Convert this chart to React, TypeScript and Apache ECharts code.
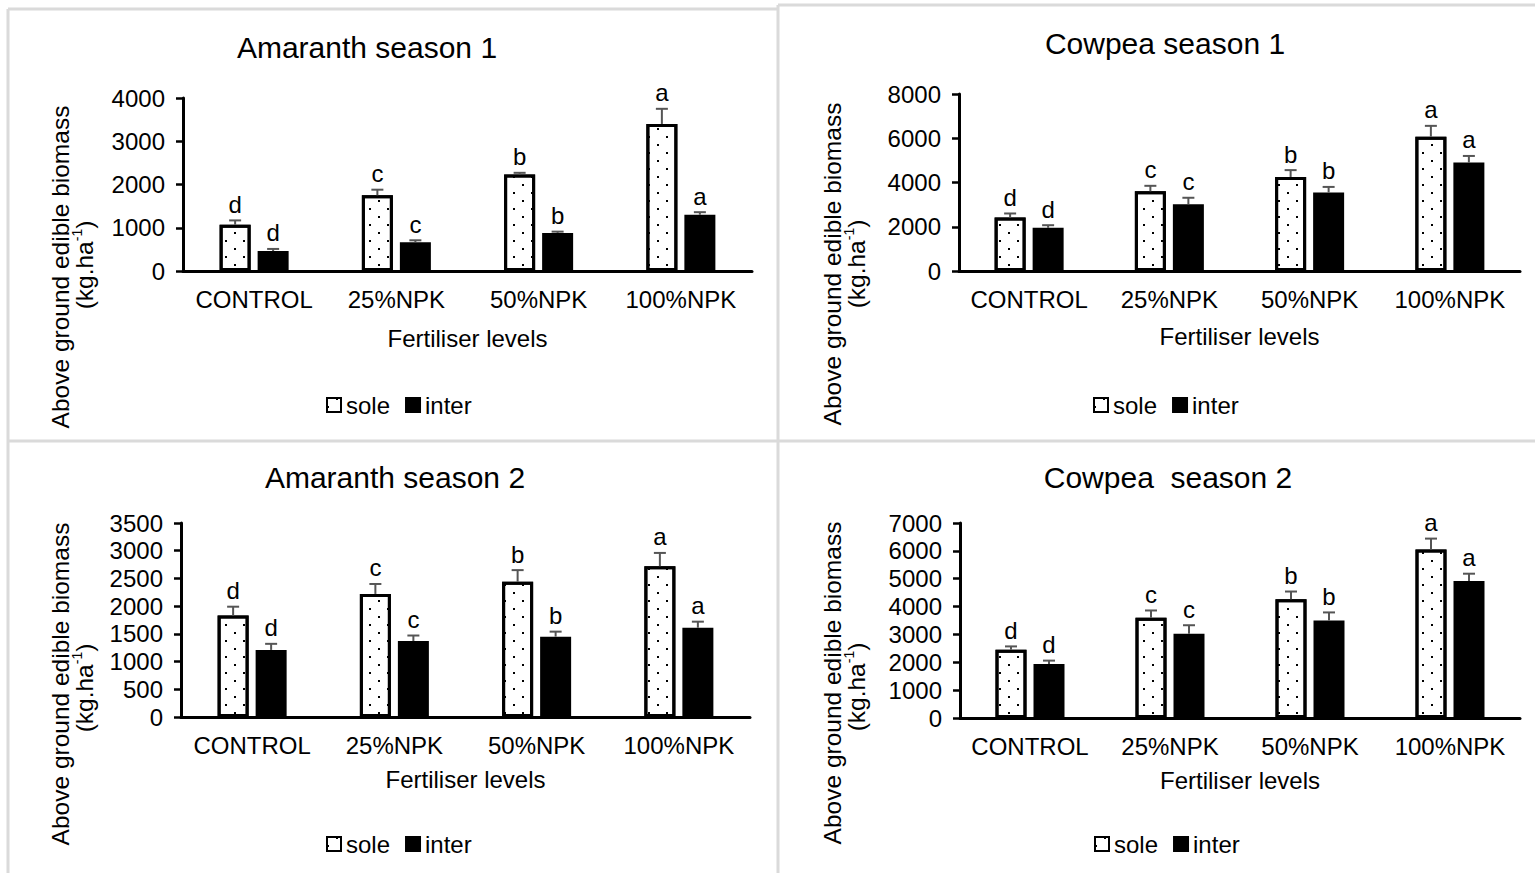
import React, { useEffect, useRef } from 'react';
import * as echarts from 'echarts';

const categories = ['CONTROL', '25%NPK', '50%NPK', '100%NPK'];
const seriesNames = ['sole', 'inter'];
const titles = ['Amaranth season 1', 'Cowpea season 1', 'Amaranth season 2', 'Cowpea  season 2'];
const xAxisName = 'Fertiliser levels';
const yAxisName = 'Above ground edible biomass';

const yMax = [4000, 8000, 3500, 7000];
const yInterval = [1000, 2000, 500, 1000];

const amaranth1Sole = [1070, 1750, 2230, 3400];
const amaranth1SoleErr = [100, 130, 40, 350];
const amaranth1Inter = [460, 665, 880, 1300];
const amaranth1InterErr = [50, 45, 30, 60];

const cowpea1Sole = [2420, 3600, 4250, 6070];
const cowpea1SoleErr = [180, 250, 310, 490];
const cowpea1Inter = [1950, 3020, 3550, 4900];
const cowpea1InterErr = [120, 290, 250, 300];

const amaranth2Sole = [1830, 2220, 2440, 2720];
const amaranth2SoleErr = [160, 180, 210, 240];
const amaranth2Inter = [1210, 1370, 1450, 1610];
const amaranth2InterErr = [110, 100, 90, 110];

const cowpea2Sole = [2450, 3600, 4260, 6050];
const cowpea2SoleErr = [120, 260, 280, 390];
const cowpea2Inter = [1940, 3020, 3500, 4920];
const cowpea2InterErr = [120, 310, 290, 260];

const soleLetters = ['d', 'c', 'b', 'a'];
const interLetters = ['d', 'c', 'b', 'a'];

const panelData = [
  { sole: amaranth1Sole, soleErr: amaranth1SoleErr, inter: amaranth1Inter, interErr: amaranth1InterErr },
  { sole: cowpea1Sole, soleErr: cowpea1SoleErr, inter: cowpea1Inter, interErr: cowpea1InterErr },
  { sole: amaranth2Sole, soleErr: amaranth2SoleErr, inter: amaranth2Inter, interErr: amaranth2InterErr },
  { sole: cowpea2Sole, soleErr: cowpea2SoleErr, inter: cowpea2Inter, interErr: cowpea2InterErr },
];

const FONT = '"Liberation Sans", Arial, sans-serif';
const BAR_W = 31;
const BAR_GAP = 7;

const layouts = [
  { grid: { left: 183, top: 98, width: 569, height: 173 }, title: [367, 47], legend: [326, 393], yName: [60, 267], yName2: [84, 265], nameGap: 55 },
  { grid: { left: 959, top: 94, width: 561, height: 177 }, title: [1165, 43], legend: [1093, 393], yName: [832, 264], yName2: [856, 264], nameGap: 53 },
  { grid: { left: 181, top: 523, width: 569, height: 194 }, title: [395, 477], legend: [326, 832], yName: [60, 684], yName2: [84, 688], nameGap: 50 },
  { grid: { left: 960, top: 523, width: 560, height: 195 }, title: [1168, 477], legend: [1094, 832], yName: [832, 683], yName2: [856, 687], nameGap: 50 },
];

function makeErr(values: number[], errs: number[], letters: string[], offset: number, k: number, name: string) {
  return {
    type: 'custom',
    name,
    xAxisIndex: k,
    yAxisIndex: k,
    z: 5,
    data: values.map((v, i) => [i, v, errs[i]]),
    encode: { x: 0, y: 1 },
    renderItem: (params: any, api: any) => {
      const i = api.value(0);
      const v = api.value(1);
      const e = api.value(2);
      const base = api.coord([i, v]);
      const top = api.coord([i, v + e]);
      const x = base[0] + offset;
      return {
        type: 'group',
        children: [
          { type: 'line', shape: { x1: x, y1: base[1], x2: x, y2: top[1] }, style: { stroke: '#555', lineWidth: 2 } },
          { type: 'line', shape: { x1: x - 6, y1: top[1], x2: x + 6, y2: top[1] }, style: { stroke: '#555', lineWidth: 2 } },
          {
            type: 'text',
            x,
            y: top[1] - 4,
            style: {
              text: letters[params.dataIndex],
              align: 'center',
              verticalAlign: 'bottom',
              fontSize: 24,
              fontFamily: FONT,
              fill: '#000',
            },
          },
        ],
      };
    },
  };
}

export default function App() {
  const ref = useRef<HTMLDivElement>(null);
  useEffect(() => {
    if (!ref.current) return;
    const chart = echarts.init(ref.current, undefined, { renderer: 'svg' });
    const off = (BAR_W + BAR_GAP) / 2;
    const series: any[] = [];
    panelData.forEach((p, k) => {
      series.push({
        type: 'bar',
        name: seriesNames[0],
        xAxisIndex: k,
        yAxisIndex: k,
        barWidth: BAR_W,
        barGap: (BAR_GAP / BAR_W) * 100 + '%',
        data: p.sole,
        itemStyle: {
          color: '#fff',
          borderColor: '#000',
          borderWidth: 3,
          decal: {
            symbol: 'rect',
            symbolSize: 1,
            color: '#000',
            dashArrayX: [[2, 16], [0, 9, 2, 7]],
            dashArrayY: [2, 6],
            rotation: 0,
          },
        },
      });
      series.push({
        type: 'bar',
        name: seriesNames[1],
        xAxisIndex: k,
        yAxisIndex: k,
        barWidth: BAR_W,
        data: p.inter,
        itemStyle: { color: '#000', borderColor: '#000', borderWidth: 3 },
      });
      series.push(makeErr(p.sole, p.soleErr, soleLetters, -off, k, 'sole error'));
      series.push(makeErr(p.inter, p.interErr, interLetters, off, k, 'inter error'));
    });

    const graphics: any[] = [];
    const border = { stroke: '#dadada', lineWidth: 3 };
    graphics.push({ type: 'line', shape: { x1: 8, y1: 9, x2: 778, y2: 9 }, style: border });
    graphics.push({ type: 'line', shape: { x1: 778, y1: 5, x2: 1535, y2: 5 }, style: border });
    graphics.push({ type: 'line', shape: { x1: 778, y1: 5, x2: 778, y2: 873 }, style: border });
    graphics.push({ type: 'line', shape: { x1: 8, y1: 441, x2: 1535, y2: 441 }, style: border });
    graphics.push({ type: 'line', shape: { x1: 8, y1: 9, x2: 8, y2: 873 }, style: border });
    layouts.forEach((l, k) => {
      graphics.push({
        type: 'text',
        x: l.title[0],
        y: l.title[1],
        style: { text: titles[k], align: 'center', verticalAlign: 'middle', textAlign: 'center', textVerticalAlign: 'middle', fontSize: 30, fontFamily: FONT, fill: '#000' },
      });
      graphics.push({
        type: 'text',
        x: l.yName[0],
        y: l.yName[1],
        rotation: Math.PI / 2,
        style: { text: yAxisName, align: 'center', verticalAlign: 'middle', textAlign: 'center', textVerticalAlign: 'middle', fontSize: 24.5, fontFamily: FONT, fill: '#000' },
      });
      graphics.push({
        type: 'text',
        x: l.yName2[0],
        y: l.yName2[1],
        rotation: Math.PI / 2,
        style: {
          text: '{n|(kg.ha}{s|-1}{n|)}',
          align: 'center',
          verticalAlign: 'middle',
          textAlign: 'center',
          textVerticalAlign: 'middle',
          fontFamily: FONT,
          fill: '#000',
          rich: {
            n: { fontSize: 24.5, fontFamily: FONT, fill: '#000', lineHeight: 28 },
            s: { fontSize: 14, fontFamily: FONT, fill: '#000', lineHeight: 14, verticalAlign: 'top' },
          },
        },
      });
    });

    chart.setOption({
      animation: false,
      backgroundColor: '#fff',
      grid: layouts.map((l) => ({ ...l.grid, containLabel: false })),
      xAxis: layouts.map((l, k) => ({
        type: 'category',
        gridIndex: k,
        data: categories,
        boundaryGap: true,
        axisTick: { show: false },
        axisLine: { show: true, lineStyle: { color: '#000', width: 3 } },
        axisLabel: { color: '#000', fontSize: 24, fontFamily: FONT, margin: 16, interval: 0 },
        name: xAxisName,
        nameLocation: 'middle',
        nameGap: l.nameGap,
        nameTextStyle: { color: '#000', fontSize: 24, fontFamily: FONT },
      })),
      yAxis: layouts.map((l, k) => ({
        type: 'value',
        gridIndex: k,
        min: 0,
        max: yMax[k],
        interval: yInterval[k],
        splitLine: { show: false },
        axisLine: { show: true, lineStyle: { color: '#000', width: 3 } },
        axisTick: { show: true, length: 7, lineStyle: { color: '#000', width: 2.5 } },
        axisLabel: { color: '#000', fontSize: 24, fontFamily: FONT, margin: 18, formatter: (v: number) => String(v) },
      })),
      legend: layouts.map((l) => ({
        data: seriesNames,
        left: l.legend[0],
        top: l.legend[1],
        padding: 0,
        itemWidth: 14,
        itemHeight: 14,
        itemGap: 15,
        icon: 'rect',
        selectedMode: false,
        textStyle: { color: '#000', fontSize: 24, fontFamily: FONT },
      })),
      graphic: { elements: graphics },
      series,
    });
    return () => chart.dispose();
  }, []);
  return (
    <div
      ref={ref}
      style={{ position: 'fixed', left: 0, top: 0, width: 1535, height: 873, background: '#fff' }}
    />
  );
}
